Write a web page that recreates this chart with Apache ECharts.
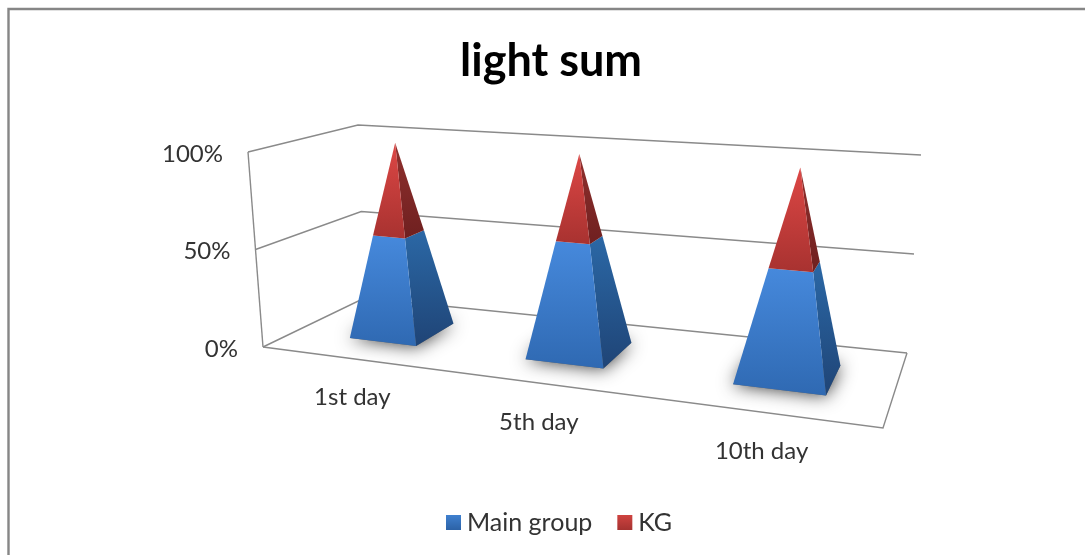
<!DOCTYPE html>
<html><head><meta charset="utf-8">
<style>html,body{margin:0;padding:0;background:#fff}#c{width:1085px;height:555px}</style>
<script src="https://cdn.jsdelivr.net/npm/echarts@6/dist/echarts.min.js"></script>
</head><body><div id="c"></div>
<script>
var categories = ['1st day', '5th day', '10th day'];
var mainGroup = [52, 57, 53];
var kg = [48, 43, 47];
var valueTicks = [0, 50, 100];
var tickLabels = ['0%', '50%', '100%'];

// 3D frame layout (projection of unit box to screen)
var FLOOR = [[263,347],[883,428],[907,353],[364.5,298]];
var TOP   = [[248,152],[912,199],[921,155],[358,125]];
var HALF_U = 0.066, HALF_W = 0.21, CENTER_W = 0.5, SHIFT_U = 0.014;

function homography(q){
  var x0=q[0][0],y0=q[0][1],x1=q[1][0],y1=q[1][1],x2=q[2][0],y2=q[2][1],x3=q[3][0],y3=q[3][1];
  var dx1=x1-x2,dx2=x3-x2,sx=x0-x1+x2-x3,dy1=y1-y2,dy2=y3-y2,sy=y0-y1+y2-y3;
  var den=dx1*dy2-dx2*dy1,g=(sx*dy2-dx2*sy)/den,h=(dx1*sy-sx*dy1)/den;
  var a=x1-x0+g*x1,b=x3-x0+h*x3,d=y1-y0+g*y1,e=y3-y0+h*y3;
  return function(u,w){var k=g*u+h*w+1;return [(a*u+b*w+x0)/k,(d*u+e*w+y0)/k];};
}
var floorH = homography(FLOOR), topH = homography(TOP);
function project(u,w,t){
  var p=floorH(u,w),q=topH(u,w);
  return [p[0]+(q[0]-p[0])*t,p[1]+(q[1]-p[1])*t];
}
function gridPos(params,api,cat,val){
  var cs=params.coordSys,c=api.coord([cat,val]);
  return {u:(c[0]-cs.x)/cs.width,t:(cs.y+cs.height-c[1])/cs.height};
}
function grad(a,b){return {type:'linear',x:0,y:0,x2:0,y2:1,colorStops:[{offset:0,color:a},{offset:1,color:b}]};}
function corner(uc,su,sw,t){
  var s=1-t;
  return project(uc+SHIFT_U+su*HALF_U*s,CENTER_W+sw*HALF_W*s,t);
}

function pyramidSegment(colors){
  return function(params,api){
    var cat=api.value(0),p0=gridPos(params,api,cat,api.value(1)),p1=gridPos(params,api,cat,api.value(2));
    var uc=p0.u,t0=p0.t,t1=p1.t;
    var FL0=corner(uc,-1,-1,t0),FR0=corner(uc,1,-1,t0),BR0=corner(uc,1,1,t0);
    var FL1=corner(uc,-1,-1,t1),FR1=corner(uc,1,-1,t1),BR1=corner(uc,1,1,t1);
    return {type:'group',children:[
      {type:'polygon',shape:{points:[FR0,BR0,BR1,FR1]},style:{fill:grad(colors[2],colors[3])}},
      {type:'polygon',shape:{points:[FL0,FR0,FR1,FL1]},style:{fill:grad(colors[0],colors[1])}}
    ]};
  };
}
var mainData=categories.map(function(c,i){return [i,0,mainGroup[i]];});
var kgData=categories.map(function(c,i){return [i,mainGroup[i],mainGroup[i]+kg[i]];});

var font='"Lato","Open Sans",sans-serif';
var option={
  animation:false,
  backgroundColor:'#fff',
  title:{text:'light sum',left:546,top:34,textAlign:'center',textStyle:{fontFamily:font,fontSize:45,fontWeight:'bold',color:'#000'}},
  legend:{left:441,top:505,itemWidth:15,itemHeight:15,itemGap:25,icon:'rect',data:['Main group','KG'],
    textStyle:{fontFamily:font,fontSize:25,color:'#333',padding:[0,0,0,1]}},
  grid:{left:100,right:100,top:100,bottom:100},
  xAxis:{type:'category',data:categories,show:false},
  yAxis:{type:'value',min:0,max:100,interval:50,show:false},
  graphic:{elements:[{type:'polyline',silent:true,shape:{points:[[8.5,560],[8.5,9],[1090,9]]},style:{stroke:'#868686',lineWidth:2.4,fill:'none'}}]},
  series:[
    {type:'custom',name:'frame',coordinateSystem:'cartesian2d',z:1,silent:true,encode:{x:0,y:1},
     data:valueTicks.map(function(v,i){return [0,v,i];}),
     renderItem:function(params,api){
       var t=gridPos(params,api,0,api.value(1)).t,i=api.value(2),st={stroke:'#8a8a8a',lineWidth:1.4,fill:'none'};
       var a=project(0,0,t),b=project(0,1,t),c=project(1,1,t);
       var ch=[{type:'polyline',shape:{points:[a,b,c]},style:st},
               {type:'text',style:{text:tickLabels[i],x:a[0]-25,y:a[1]+2,align:'right',verticalAlign:'middle',font:'24px '+font,fill:'#333'}}];
       if(t===0){
         var d=project(1,0,0),p=project(0,0,1);
         ch.push({type:'polyline',shape:{points:[a,d,c]},style:st});
         ch.push({type:'line',shape:{x1:a[0],y1:a[1],x2:p[0],y2:p[1]},style:st});
       }
       return {type:'group',children:ch};
     }},
    {type:'custom',name:'categoryLabels',coordinateSystem:'cartesian2d',z:1,silent:true,encode:{x:0,y:1},
     data:categories.map(function(c,i){return [i,0];}),
     renderItem:function(params,api){
       var i=api.value(0),g=gridPos(params,api,i,0),p=project(g.u,0,0);
       return {type:'text',style:{text:categories[i],x:p[0]+7,y:p[1]+40,align:'center',verticalAlign:'middle',font:'24px '+font,fill:'#333'}};
     }},
    {type:'custom',name:'shadow',coordinateSystem:'cartesian2d',z:2,silent:true,encode:{x:0,y:1},
     data:categories.map(function(c,i){return [i,0];}),
     renderItem:function(params,api){
       var g=gridPos(params,api,api.value(0),0),uc=g.u;
       var pts=[corner(uc,-1,-1,0),corner(uc,1,-1,0),corner(uc,1,1,0),corner(uc,-1,1,0)];
       return {type:'polygon',shape:{points:pts},style:{fill:'#666',shadowBlur:18,shadowColor:'#333'}};
     }},
    {type:'custom',name:'Main group',coordinateSystem:'cartesian2d',z:3,encode:{x:0,y:[1,2]},
     itemStyle:{color:grad('#3f80cf','#2c62a6')},
     data:mainData,renderItem:pyramidSegment(['#4689dc','#2f69b2','#2b68a6','#1f4476'])},
    {type:'custom',name:'KG',coordinateSystem:'cartesian2d',z:3,encode:{x:0,y:[1,2]},
     itemStyle:{color:grad('#cf4340','#a53230')},
     data:kgData,renderItem:pyramidSegment(['#dd4745','#a83230','#90302d','#6f2020'])}
  ]
};
var chart=echarts.init(document.getElementById('c'),null,{renderer:'canvas'});
chart.setOption(option);
</script></body></html>
